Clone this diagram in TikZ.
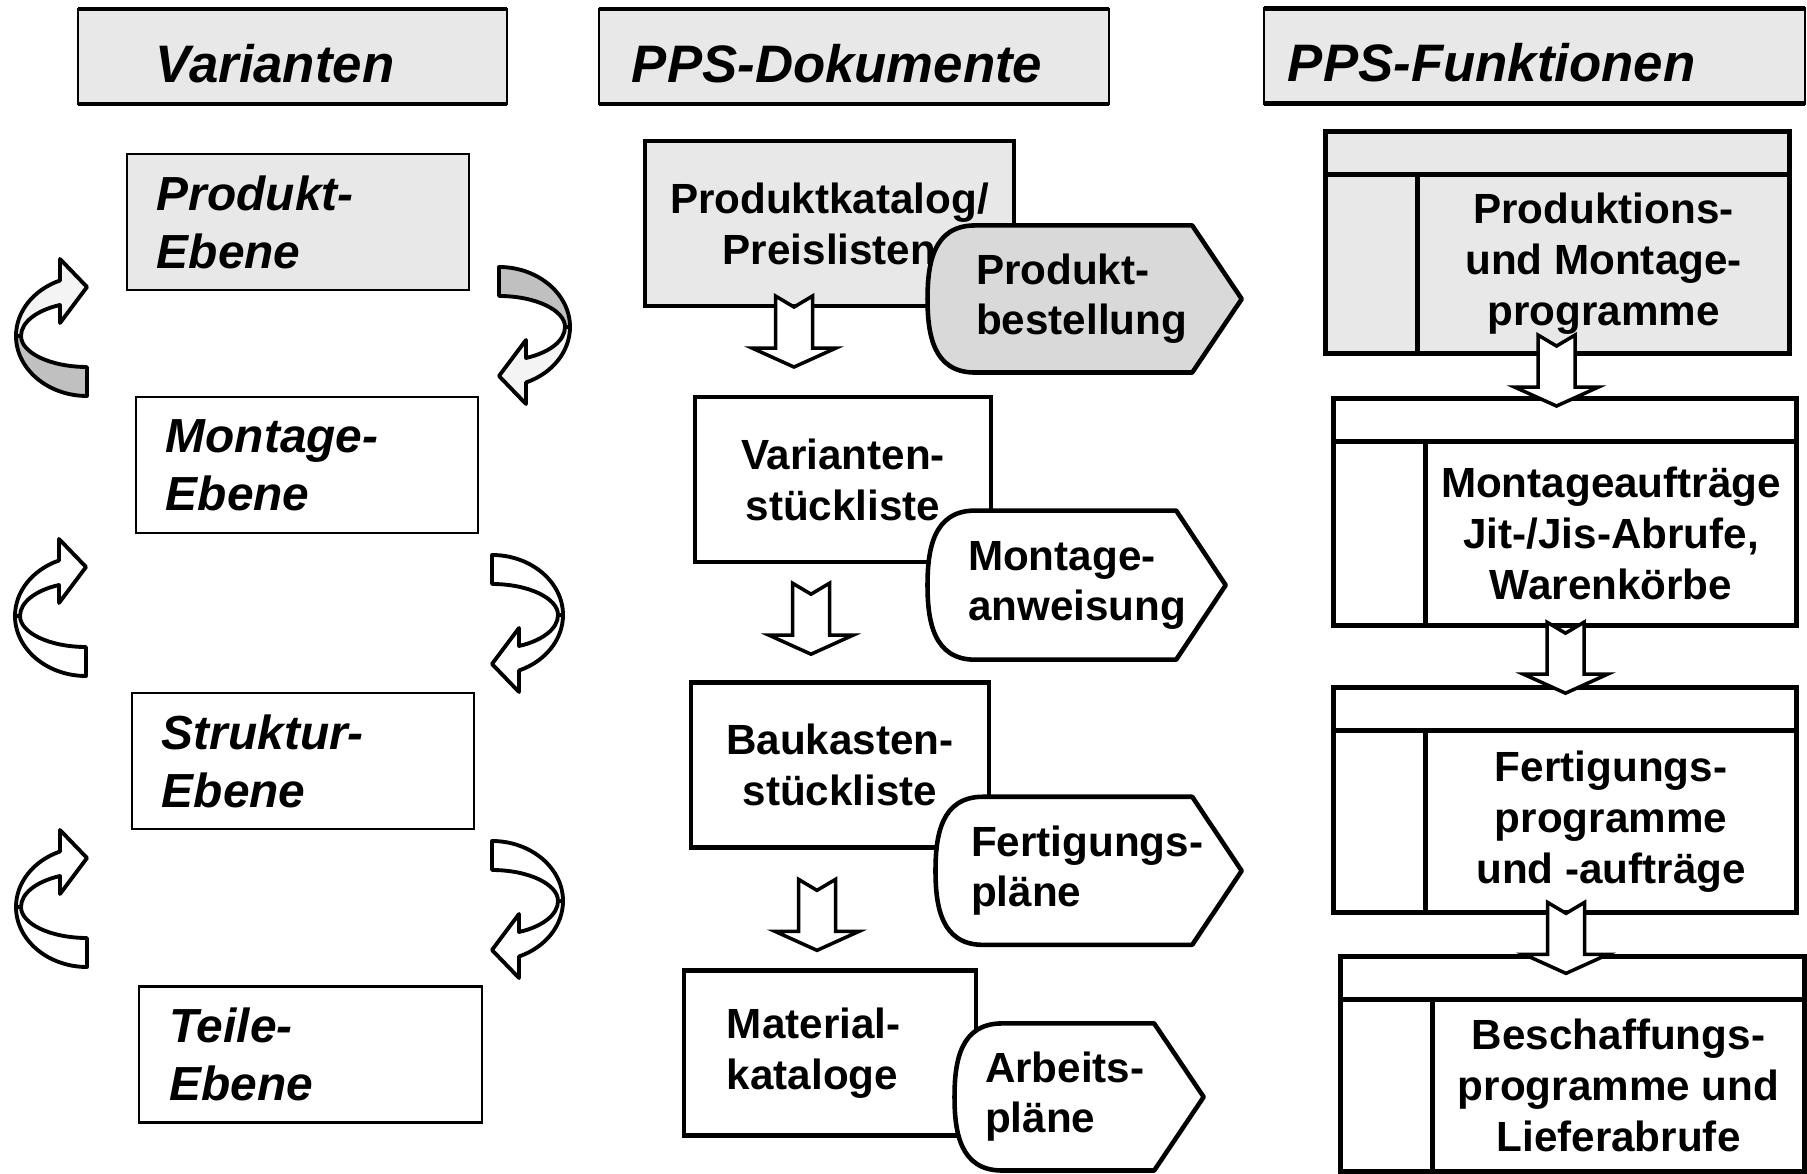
\documentclass[tikz,border=0pt]{standalone}
\usepackage{fontspec}
\setmainfont{Liberation Sans}
\usepackage{tikz}
\usepackage{xcolor}
\usetikzlibrary{positioning, calc}
\definecolor{panelgray}{HTML}{E8E8E8}
\definecolor{ordergray}{HTML}{D9D9D9}
\definecolor{ribbongray}{HTML}{C0C0C0}
\definecolor{ribbonlight}{HTML}{F4F4F4}

\begin{document}
\begin{tikzpicture}[x=0.01cm, y=-0.01cm,
                    column_head/.style={rectangle, draw, line width=0.6pt, fill=panelgray, align=left, minimum height=0.95cm, outer sep=0pt, text height=5.2mm, text depth=0mm, font=\fontsize{15}{18}\selectfont\bfseries\itshape},
                    head_rule/.style={line width=1.3pt},
                    level_box/.style={rectangle, draw, line width=0.6pt, align=left, text width=2.82cm, inner xsep=0.3cm, minimum height=1.36cm, outer sep=0pt, font=\fontsize{13.6}{16.5}\selectfont\bfseries\itshape},
                    doc_box/.style={rectangle, draw, line width=1.3pt, align=center, minimum height=1.65cm, outer sep=0pt, font=\fontsize{12}{14.5}\selectfont\bfseries},
                    order_flag/.style={rectangle, align=left, font={\fontsize{12}{14.2}\selectfont\bfseries\hyphenpenalty=10000},
                        path picture={\draw[line width=1.3pt, line join=round, fill=#1]
                            ($(path picture bounding box.north west)+(50,2.5)$) -- ($(path picture bounding box.north east)+(-52,2.5)$)
                            -- ($(path picture bounding box.east)+(-2.5,0)$) -- ($(path picture bounding box.south east)+(-52,-2.5)$)
                            -- ($(path picture bounding box.south west)+(50,-2.5)$)
                            .. controls ($(path picture bounding box.south west)+(8,-2.5)$) and ($(path picture bounding box.west)+(2.5,35)$) .. ($(path picture bounding box.west)+(2.5,0)$)
                            .. controls ($(path picture bounding box.west)+(2.5,-35)$) and ($(path picture bounding box.north west)+(8,2.5)$) .. ($(path picture bounding box.north west)+(50,2.5)$) -- cycle;}},
                    order_flag/.default=white,
                    func_cell/.style={rectangle, draw, line width=1.4pt, align=center, minimum width=3.71cm, outer sep=0pt, font=\fontsize{12}{14.5}\selectfont\bfseries},
                    func_frame/.style={draw, line width=1.4pt},
                    hollow_arrow/.style={draw, fill=white, line width=1pt},
                    ribbon/.style={draw, line width=1.1pt, line join=round},
                    ribbon_back/.style={fill=white},
                    ribbon_front/.style={fill=white},
                    hollow_down/.pic={\path[hollow_arrow] (-18.5,0) -- (0,11) -- (18.5,0) -- (18.5,52) -- (42,52) -- (0,71) -- (-42,52) -- (-18.5,52) -- cycle;},
                    turn_arrow/.pic={
                        \path[ribbon, ribbon_back] (1,78) .. controls (1,111) and (33,138) .. (72,138) -- (72,109) .. controls (36,109) and (6,95) .. (6,78) -- cycle;
                        \path[ribbon, ribbon_front] (6,78) .. controls (6,64.6) and (21,52.5) .. (45,47) -- (45,65) -- (72,29) -- (45,1) -- (45,22.5) .. controls (18.3,31.8) and (1,53.7) .. (1,78) -- cycle;},
                    ]

    \useasboundingbox (0,0) rectangle (1807,1174);

    % Column heads
    \node[column_head, text width=2.73cm, inner xsep=0.78cm] (var_head) at (292.5,56.5) {Varianten};
    \node[column_head, text width=4.44cm, inner xsep=0.33cm] (doc_head) at (854,56.5) {PPS-Dokumente};
    \node[column_head, text width=4.93cm, inner xsep=0.24cm] (fun_head) at (1534.5,56) {PPS-Funktionen};
    \foreach \head in {var_head, doc_head, fun_head}
        \draw[head_rule] (\head.north west) -- (\head.north east) (\head.south west) -- (\head.south east);

    % Variant levels
    \node[level_box, fill=panelgray] (prod_level) at (298,222) {Produkt-\\Ebene};
    \node[level_box, below=1.07cm of prod_level, xshift=0.09cm] (mont_level) {Montage-\\Ebene};
    \node[level_box, below=1.60cm of mont_level, xshift=-0.04cm] (struk_level) {Struktur-\\Ebene};
    \node[level_box, below=1.57cm of struk_level, xshift=0.075cm] (teile_level) {Teile-\\Ebene};

    % Turn arrows between the levels
    \pic[ribbon_back/.style={fill=ribbongray}, ribbon_front/.style={fill=ribbonlight}] at (15,258) {turn_arrow};
    \pic[rotate=180, ribbon_back/.style={fill=ribbongray}, ribbon_front/.style={fill=ribbonlight}] at (571,405) {turn_arrow};
    \pic at (14,538) {turn_arrow};
    \pic[rotate=180] at (564,693) {turn_arrow};
    \pic at (15,829) {turn_arrow};
    \pic[rotate=180] at (564,979) {turn_arrow};

    % Documents
    \node[doc_box, minimum width=3.69cm, fill=panelgray] (katalog) at (829.5,223.5) {Produktkatalog/\\Preislisten};
    \node[doc_box, minimum width=2.96cm, below=0.91cm of katalog, xshift=0.135cm] (var_list) {Varianten-\\stückliste};
    \node[doc_box, minimum width=2.98cm, below=1.2cm of var_list, xshift=-0.03cm] (bau_list) {Baukasten-\\stückliste};
    \node[doc_box, align=left, text width=2.06cm, inner xsep=0.43cm, below=1.23cm of bau_list, xshift=-0.1cm] (mat_cat) {Material-\\kataloge};

    % Order documents
    \node[order_flag=ordergray, text width=2.17cm, inner xsep=0.51cm, minimum height=1.52cm] (bestellung) at ($(katalog.east)+(70.5,75.5)$) {Produkt-\\bestellung};
    \node[order_flag, text width=2.17cm, inner xsep=0.43cm, minimum height=1.54cm] (anweisung) at ($(var_list.east)+(85.5,105.5)$) {Montage-\\anweisung};
    \node[order_flag, text width=2.35cm, inner xsep=0.38cm, minimum height=1.53cm] (fert_plan) at ($(bau_list.east)+(99.5,106)$) {Fertigungs-\\pläne};
    \node[order_flag, text width=1.88cm, inner xsep=0.33cm, minimum height=1.52cm] (arb_plan) at ($(mat_cat.east)+(103,44)$) {Arbeits-\\pläne};

    % Functions
    \node[func_cell, minimum height=1.78cm, fill=panelgray] (prog) at (1603.5,264) {Produktions-\\und Montage-\\programme};
    \node[func_cell, minimum height=1.84cm, below=0.88cm of prog, xshift=0.075cm] (montage_orders) {Montageaufträge\\Jit-/Jis-Abrufe,\\Warenkörbe};
    \node[func_cell, minimum height=1.82cm, below=1.05cm of montage_orders] (fert_orders) {Fertigungs-\\programme\\und -aufträge};
    \node[func_cell, minimum height=1.72cm, below=0.87cm of fert_orders, xshift=0.075cm] (besch) {Beschaffungs-\\programme und\\Lieferabrufe};

    \foreach \cell/\shade in {prog/panelgray, montage_orders/white, fert_orders/white, besch/white} {
        \draw[func_frame, fill=\shade] ($(\cell.north west)+(-92,-43)$) rectangle (\cell.north east);
        \draw[func_frame, fill=\shade] ($(\cell.north west)+(-92,0)$) rectangle (\cell.south west);
    }

    % Hollow arrows
    \pic at ($(katalog.south)+(-35.5,-10)$) {hollow_down};
    \pic at ($(var_list.south)+(-32,21)$) {hollow_down};
    \pic at ($(bau_list.south)+(-23,32)$) {hollow_down};
    \pic at ($(prog.south)+(-47,-18)$) {hollow_down};
    \pic at ($(montage_orders.south)+(-45.5,-3)$) {hollow_down};
    \pic at ($(fert_orders.south)+(-45,-10)$) {hollow_down};

\end{tikzpicture}
\end{document}
